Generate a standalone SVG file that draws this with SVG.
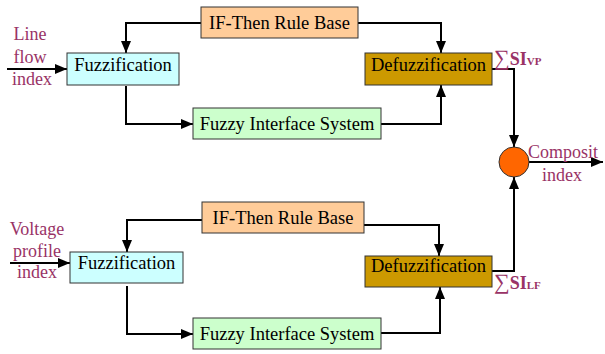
<svg xmlns="http://www.w3.org/2000/svg" width="605" height="354" viewBox="0 0 605 354">
<defs>
<marker id="ah" markerUnits="userSpaceOnUse" markerWidth="12" markerHeight="10" refX="12" refY="5" orient="auto">
<path d="M0,0 L12,5 L0,10 z" fill="#000"/>
</marker>
<style>
.box{stroke:#333;stroke-width:1}
.rule{fill:#FFCC99}
.fuz{fill:#CCFFFF}
.fis{fill:#CCFFCC}
.def{fill:#CC9900}
.t{font-family:"Liberation Serif","Times New Roman",serif;font-size:18.5px;fill:#000;text-anchor:middle}
.lab{font-family:"Liberation Serif","Times New Roman",serif;font-size:18px;fill:#993366;text-anchor:middle}
.sig{font-family:"Liberation Serif","Times New Roman",serif;font-size:18px;fill:#993366;font-weight:bold}
.c{fill:none;stroke:#000;stroke-width:2;marker-end:url(#ah)}
</style>
</defs>
<rect width="605" height="354" fill="#fff"/>

<g id="connectors">
<path class="c" d="M201,23 H126 V53"/>
<path class="c" d="M358,23 H441 V53"/>
<path class="c" d="M126,86 V124 H193"/>
<path class="c" d="M381,124 H441 V85"/>
<path class="c" d="M7,69 H67"/>
<path class="c" d="M492,69 H514 V147"/>
<path class="c" d="M529,162 H603"/>
<path class="c" d="M202,220 H127 V252"/>
<path class="c" d="M364,225 H439 V256"/>
<path class="c" d="M127,286 V334 H193"/>
<path class="c" d="M381,333 H440 V287"/>
<path class="c" d="M10,263 H70"/>
<path class="c" d="M492,271 H514 V177"/>
</g>

<g id="rule1"><rect class="box rule" x="201" y="7" width="157" height="31"/><text class="t" x="279.5" y="29">IF-Then Rule Base</text></g>
<g id="fuzz1"><rect class="box fuz" x="67" y="53" width="112" height="32"/><text class="t" x="123" y="70.5">Fuzzification</text></g>
<g id="fis1"><rect class="box fis" x="193" y="108" width="188" height="31"/><text class="t" x="287" y="130">Fuzzy Interface System</text></g>
<g id="defuzz1"><rect class="box def" x="365" y="53" width="127" height="32"/><text class="t" x="428.5" y="70.5">Defuzzification</text></g>

<g id="rule2"><rect class="box rule" x="202" y="202" width="162" height="31"/><text class="t" x="283" y="224">IF-Then Rule Base</text></g>
<g id="fuzz2"><rect class="box fuz" x="70" y="252" width="113" height="31"/><text class="t" x="126.5" y="269">Fuzzification</text></g>
<g id="fis2"><rect class="box fis" x="193" y="318" width="188" height="31"/><text class="t" x="287" y="340">Fuzzy Interface System</text></g>
<g id="defuzz2"><rect class="box def" x="365" y="256" width="127" height="31"/><text class="t" x="428.5" y="272">Defuzzification</text></g>

<g id="composite"><circle cx="514" cy="162" r="15" fill="#FF6600" stroke="#333" stroke-width="1"/></g>

<g id="labels">
<text class="lab" x="30" y="40">Line</text>
<text class="lab" x="30" y="63">flow</text>
<text class="lab" x="32" y="85">index</text>
<text class="lab" x="37" y="235">Voltage</text>
<text class="lab" x="37" y="257">profile</text>
<text class="lab" x="37" y="278">index</text>
<text class="lab" x="563" y="158">Composit</text>
<text class="lab" x="562" y="181">index</text>
<text class="sig" x="494" y="65"><tspan font-weight="normal" font-size="22">∑</tspan>SI<tspan font-size="11">VP</tspan></text>
<text class="sig" x="494" y="289"><tspan font-weight="normal" font-size="22">∑</tspan>SI<tspan font-size="11">LF</tspan></text>
</g>
</svg>
